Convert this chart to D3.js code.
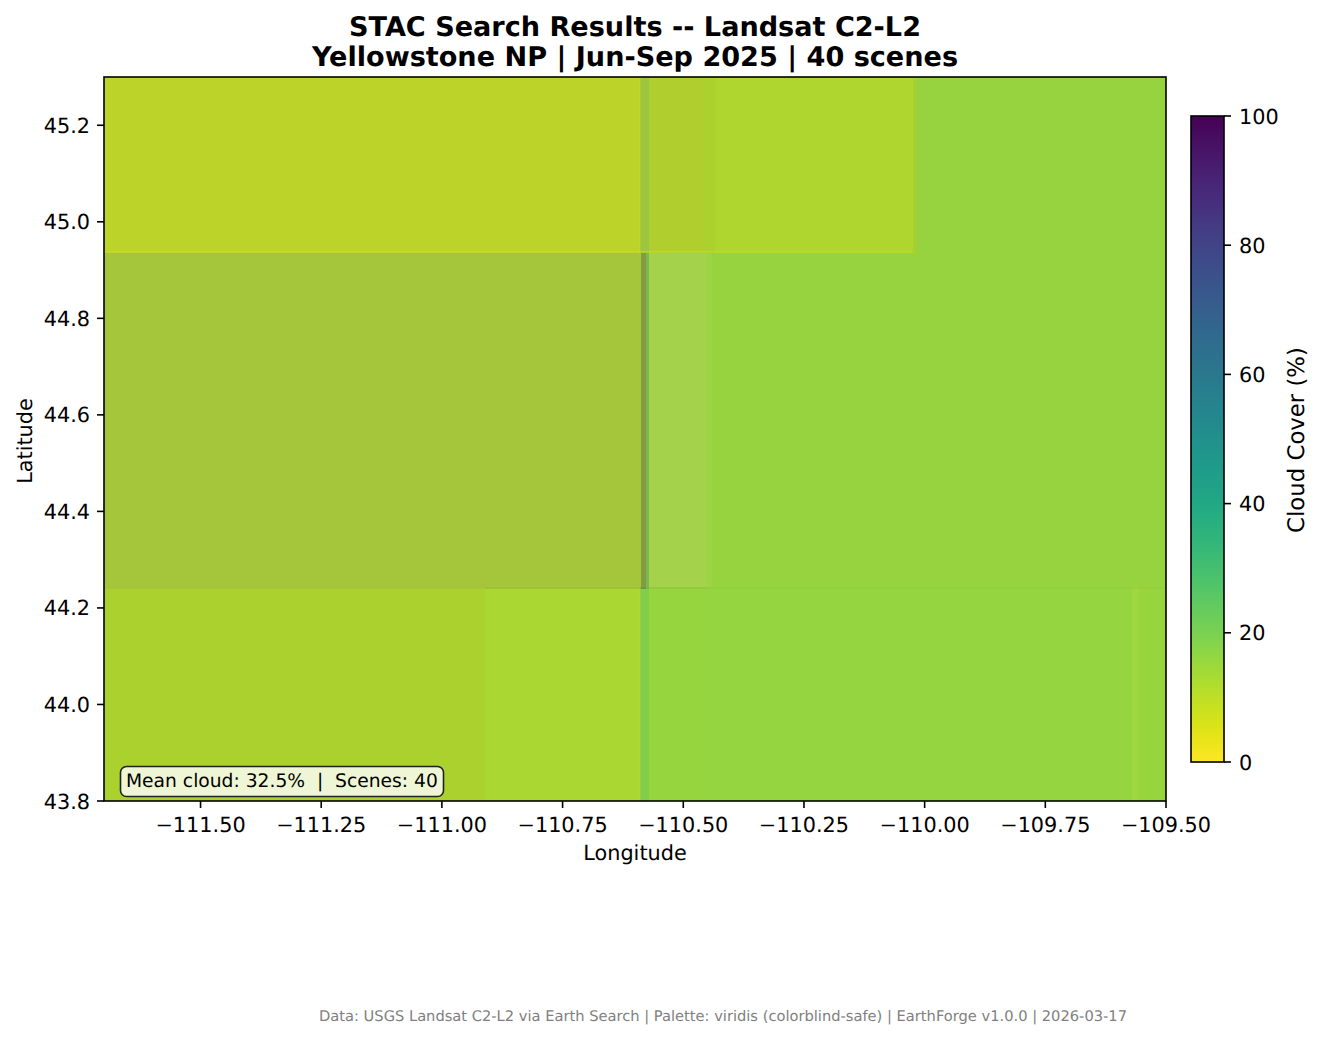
<!DOCTYPE html>
<html><head><meta charset="utf-8">
<script src="https://cdn.jsdelivr.net/npm/d3@7/dist/d3.min.js"></script>
<style>html,body{margin:0;padding:0;background:#fff}svg{display:block}text{font-family:"DejaVu Sans";fill:#000;text-rendering:geometricPrecision}</style>
</head><body><svg id="c" width="1324" height="1040"></svg>
<script>
const titleLines=["STAC Search Results -- Landsat C2-L2","Yellowstone NP | Jun-Sep 2025 | 40 scenes"];
const xTicks=[-111.5,-111.25,-111,-110.75,-110.5,-110.25,-110,-109.75,-109.5];
const yTicks=[43.8,44,44.2,44.4,44.6,44.8,45,45.2];
const cbTicks=[0,20,40,60,80,100];
const lonDomain=[-111.7,-109.5], latDomain=[43.8,45.3];
// footprints: lon0, lon1, lat0, lat1, cloud %, haze (share of heavy-cloud scenes), veil (scene opacity over blank)
const tileLon0=[-111.7,-110.59,-110.57,-110.455,-110.435,-110.025,-110.018,-110.008, -111.7,-110.587,-110.578,-110.57,-110.45,-110.44, -111.7,-110.91,-110.59,-110.57,-110.455,-109.57,-109.555];
const tileLon1=[-110.59,-110.57,-110.455,-110.435,-110.025,-110.018,-110.008,-109.5, -110.587,-110.578,-110.57,-110.45,-110.44,-109.5, -110.91,-110.59,-110.57,-110.455,-109.57,-109.555,-109.5];
const tileLat0=[44.935,44.935,44.935,44.935,44.935,44.935,44.935,44.935, 44.24,44.24,44.24,44.24,44.24,44.24, 43.8,43.8,43.8,43.8,43.8,43.8,43.8];
const tileLat1=[45.3,45.3,45.3,45.3,45.3,45.3,45.3,45.3, 44.935,44.935,44.935,44.935,44.935,44.935, 44.24,44.244,44.244,44.244,44.244,44.244,44.244];
const tileCloud=[9.2,13.5,10.8,11.5,11.5,12.5,15,15.4, 12.3,15,19,14,15,15.6, 11.7,12.5,18,15.5,15.8,14.8,15.2];
const tileHaze=[.05,.1,.07,.05,.03,.05,.03,.02, .1,.28,.12,.05,.03,.02, .05,.02,.03,.01,.01,.01,.02];
const tileVeil=[.98,.97,.98,1,1,1,1,1, .96,1,1,.9,.95,1, 1,1,1,1,1,.97,1];
// seams where neighbouring scene edges meet
const seamLon0=[-111.7,-110.59,-110.59], seamLon1=[-110.025,-110.59,-110.59];
const seamLat0=[44.938,45.3,44.24], seamLat1=[44.938,44.938,43.8];
const seamCloud=[7.5,9,11];

const svg=d3.select("#c");
const m={l:104,r:1166,t:77,b:801};
const x=d3.scaleLinear().domain(lonDomain).range([m.l,m.r]);
const y=d3.scaleLinear().domain(latDomain).range([m.b,m.t]);
const color=c=>d3.interpolateViridis(1-c/100);
const idx=d3.range(tileLon0.length);
const g=svg.append("g");
g.selectAll("rect.t").data(idx).join("rect").attr("class","t")
 .attr("x",i=>x(tileLon0[i])).attr("width",i=>x(tileLon1[i])-x(tileLon0[i]))
 .attr("y",i=>y(tileLat1[i])).attr("height",i=>y(tileLat0[i])-y(tileLat1[i]))
 .attr("fill",i=>color(tileCloud[i])).attr("fill-opacity",i=>tileVeil[i]).attr("shape-rendering","crispEdges");
g.selectAll("rect.h").data(idx).join("rect").attr("class","h")
 .attr("x",i=>x(tileLon0[i])).attr("width",i=>x(tileLon1[i])-x(tileLon0[i]))
 .attr("y",i=>y(tileLat1[i])).attr("height",i=>y(tileLat0[i])-y(tileLat1[i]))
 .attr("fill",color(100)).attr("fill-opacity",i=>tileHaze[i]).attr("shape-rendering","crispEdges");
g.selectAll("line.s").data(seamLon0).join("line").attr("class","s")
 .attr("x1",(d,i)=>x(d)).attr("x2",(d,i)=>x(seamLon1[i])).attr("y1",(d,i)=>y(seamLat0[i])).attr("y2",(d,i)=>y(seamLat1[i]))
 .attr("stroke",(d,i)=>color(seamCloud[i])).attr("stroke-opacity",.5).attr("stroke-width",1.5);

const ink="#000";
const sw=1.6;
const ax=svg.append("g");
ax.selectAll("line.x").data(xTicks).join("line").attr("x1",d=>x(d)).attr("x2",d=>x(d)).attr("y1",m.b).attr("y2",m.b+7).attr("stroke",ink).attr("stroke-width",sw);
ax.selectAll("text.x").data(xTicks).join("text").attr("x",d=>x(d)).attr("y",m.b+30.5).attr("text-anchor","middle").style("font-size","20.8px")
 .text(d=>d3.format(".2f")(d).replace("-","\u2212"));
ax.selectAll("line.y").data(yTicks).join("line").attr("x1",m.l-7).attr("x2",m.l).attr("y1",d=>y(d)).attr("y2",d=>y(d)).attr("stroke",ink).attr("stroke-width",sw);
ax.selectAll("text.y").data(yTicks).join("text").attr("x",m.l-14).attr("y",d=>y(d)+7.5).attr("text-anchor","end").style("font-size","20.8px").text(d=>d.toFixed(1));
ax.append("rect").attr("x",m.l).attr("y",m.t).attr("width",m.r-m.l).attr("height",m.b-m.t).attr("fill","none").attr("stroke",ink).attr("stroke-width",sw);
ax.append("text").attr("x",635).attr("y",860).attr("text-anchor","middle").style("font-size","20.8px").text("Longitude");
ax.append("text").attr("transform","translate(32,441) rotate(-90)").attr("text-anchor","middle").style("font-size","20.8px").text("Latitude");
svg.selectAll("text.title").data(titleLines).join("text").attr("x",635).attr("y",(d,i)=>36+i*30).attr("text-anchor","middle")
 .style("font-size","27.1px").style("font-weight","bold").text(d=>d);

// annotation
svg.append("rect").attr("x",120.5).attr("y",766.5).attr("width",323).attr("height",30).attr("rx",6)
 .attr("fill","#fff").attr("fill-opacity",.8).attr("stroke","#222").attr("stroke-width",1.6);
svg.append("text").attr("x",126).attr("y",787).style("font-size","18.7px").style("white-space","pre").text("Mean cloud: 32.5%  |  Scenes: 40");

// colorbar
const cb={l:1191,r:1224,t:116,b:762};
const cy=d3.scaleLinear().domain([0,100]).range([cb.b,cb.t]);
const stops=d3.range(0,101,2);
const grad=svg.append("defs").append("linearGradient").attr("id","cbg").attr("x1",0).attr("x2",0).attr("y1",1).attr("y2",0);
grad.selectAll("stop").data(stops).join("stop").attr("offset",d=>d/100).attr("stop-color",d=>color(d));
svg.append("rect").attr("x",cb.l).attr("y",cb.t).attr("width",cb.r-cb.l).attr("height",cb.b-cb.t).attr("fill","url(#cbg)").attr("stroke",ink).attr("stroke-width",sw);
svg.selectAll("line.c").data(cbTicks).join("line").attr("x1",cb.r).attr("x2",cb.r+7).attr("y1",d=>cy(d)).attr("y2",d=>cy(d)).attr("stroke",ink).attr("stroke-width",sw);
svg.selectAll("text.c").data(cbTicks).join("text").attr("x",cb.r+15).attr("y",d=>cy(d)+7.5).style("font-size","20.8px").text(d=>d);
svg.append("text").attr("transform","translate(1304,440) rotate(-90)").attr("text-anchor","middle").style("font-size","22.8px").text("Cloud Cover (%)");
svg.append("text").attr("x",723).attr("y",1021).attr("text-anchor","middle").style("font-size","14.6px").style("fill","#808080")
 .attr("textLength",808).attr("lengthAdjust","spacingAndGlyphs")
 .text("Data: USGS Landsat C2-L2 via Earth Search | Palette: viridis (colorblind-safe) | EarthForge v1.0.0 | 2026-03-17");
</script></body></html>
